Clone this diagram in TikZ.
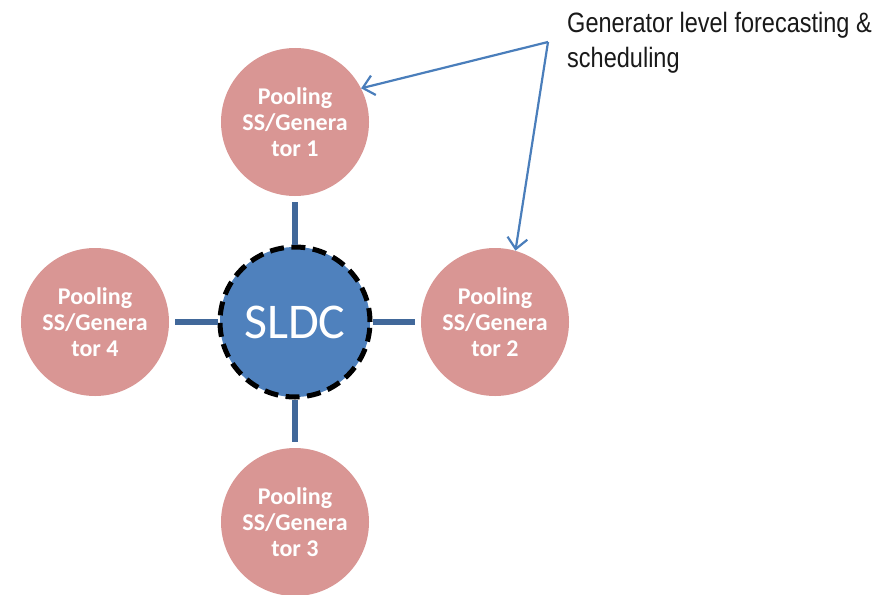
\documentclass[tikz,border=0pt]{standalone}
\usepackage{fontspec}
\setmainfont{Carlito}
\newfontfamily\narrowfont[FakeStretch=0.84]{Liberation Sans}
\usetikzlibrary{arrows.meta}
\definecolor{poolpink}{HTML}{D99694}
\definecolor{sldcblue}{HTML}{4F81BD}
\definecolor{linkblue}{HTML}{41689A}
\definecolor{callout}{HTML}{4A7EBB}
\begin{document}
\begin{tikzpicture}[x=1pt,y=-1pt,
  pool/.style={circle, fill=poolpink, minimum size=148pt, inner sep=0pt,
    text=white, align=center, font=\bfseries\fontsize{24}{26}\selectfont},
  hub/.style={circle, fill=sldcblue, draw=black, line width=5pt,
    dash pattern=on 14pt off 7.5pt, minimum size=150pt, inner sep=0pt,
    text=white, font=\fontsize{50}{50}\selectfont},
  link/.style={draw=linkblue, line width=5.5pt, shorten <=6pt},
  pointer/.style={draw=callout, line width=2.2pt,
    -{Straight Barb[length=11pt,width=20pt,line width=2.2pt]}}]
\useasboundingbox (0,0) rectangle (890,594);

% pooling substations around the control centre
\node[pool] (g1) at (295,122) {Pooling\\SS/Genera\\tor 1};
\node[pool] (g2) at (495,322) {Pooling\\SS/Genera\\tor 2};
\node[pool] (g3) at (295,522) {Pooling\\SS/Genera\\tor 3};
\node[pool] (g4) at (95,322) {Pooling\\SS/Genera\\tor 4};

% state load despatch centre
\node[hub] (sldc) at (295,322) {SLDC};

% links to the hub
\draw[link] (g1) -- (sldc);
\draw[link] (g2) -- (sldc);
\draw[link] (g3) -- (sldc);
\draw[link] (g4) -- (sldc);

% callout
\node[anchor=north west, align=left, inner sep=0pt, text=black!90,
  font=\narrowfont\fontsize{28}{35}\selectfont] (note) at (567,12)
  {Generator level forecasting \&\\scheduling};
\coordinate (apex) at (548,42);
\draw[pointer] (apex) -- (g1.27);
\draw[pointer] (apex) -- (g2.74);
\end{tikzpicture}
\end{document}
